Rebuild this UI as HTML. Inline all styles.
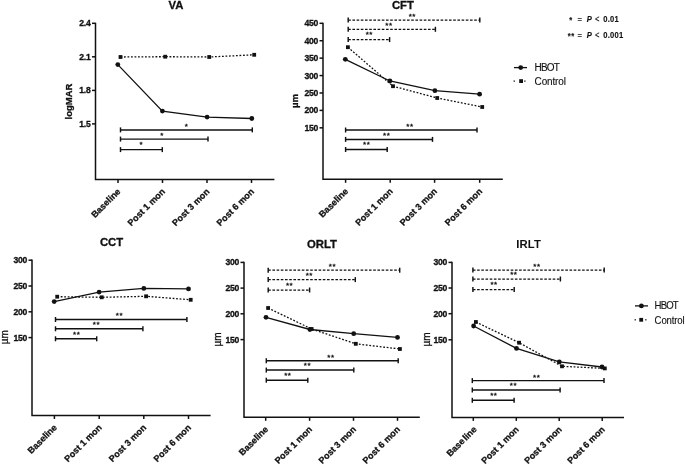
<!DOCTYPE html>
<html><head><meta charset="utf-8"><title>Figure</title>
<style>
html,body{margin:0;padding:0;background:#fff;}
body{width:685px;height:465px;overflow:hidden;}
svg{display:block;filter:grayscale(1);}
.ax line,.ax path,.ax polyline{stroke:#111;}
.mk{fill:#111;}
.t text{fill:#111;stroke:#111;stroke-width:0.3px;font-family:"Liberation Sans",sans-serif;}
.yt{font-size:8.6px;font-weight:bold;text-anchor:end;letter-spacing:-0.3px;}
.xl{font-size:9.0px;font-weight:bold;text-anchor:end;}
.st{font-size:8px;text-anchor:middle;letter-spacing:0.5px;}
.ti{font-size:11.3px;font-weight:bold;text-anchor:middle;}
.yl{font-size:9.5px;font-weight:bold;text-anchor:middle;}
.yu{font-size:10px;text-anchor:middle;}
.yb{font-size:9.6px;font-weight:bold;text-anchor:middle;}
.t .lg{font-size:10px;stroke-width:0.12px;}
.t .pv{font-size:7.6px;font-weight:bold;letter-spacing:0.25px;stroke-width:0.12px;}
.pe{font-weight:normal;}
.ps{letter-spacing:0.4px;}
.pi{font-style:italic;}
</style></head>
<body><svg width="685" height="465" viewBox="0 0 685 465">
<rect width="685" height="465" fill="#fff"/>
<g class="ax">
<path d="M95.5 22.65V179.5H274.4" stroke-width="1.5" fill="none"/>
<line x1="92" y1="23.3" x2="95.5" y2="23.3" stroke-width="1.5"/>
<line x1="92" y1="56.8" x2="95.5" y2="56.8" stroke-width="1.5"/>
<line x1="92" y1="90.4" x2="95.5" y2="90.4" stroke-width="1.5"/>
<line x1="92" y1="123.9" x2="95.5" y2="123.9" stroke-width="1.5"/>
<line x1="118" y1="179.5" x2="118" y2="183" stroke-width="1.5"/>
<line x1="162.5" y1="179.5" x2="162.5" y2="183" stroke-width="1.5"/>
<line x1="207" y1="179.5" x2="207" y2="183" stroke-width="1.5"/>
<line x1="251.5" y1="179.5" x2="251.5" y2="183" stroke-width="1.5"/>
<line x1="120.5" y1="129.9" x2="252.3" y2="129.9" stroke-width="1.45"/>
<line x1="120.5" y1="127.4" x2="120.5" y2="132.4" stroke-width="1.45"/>
<line x1="252.3" y1="127.4" x2="252.3" y2="132.4" stroke-width="1.45"/>
<line x1="120.5" y1="139.1" x2="208" y2="139.1" stroke-width="1.45"/>
<line x1="120.5" y1="136.6" x2="120.5" y2="141.6" stroke-width="1.45"/>
<line x1="208" y1="136.6" x2="208" y2="141.6" stroke-width="1.45"/>
<line x1="120.5" y1="149.6" x2="162.3" y2="149.6" stroke-width="1.45"/>
<line x1="120.5" y1="147.1" x2="120.5" y2="152.1" stroke-width="1.45"/>
<line x1="162.3" y1="147.1" x2="162.3" y2="152.1" stroke-width="1.45"/>
<polyline points="120.5,57 165.2,56.7 209.2,57 254.2,54.8" stroke-width="1.3" fill="none" stroke-dasharray="1.8 1.7"/>
<polyline points="117.8,64.6 162.4,111.1 207.1,117.1 251.8,118.5" stroke-width="1.3" fill="none"/>
</g>
<g class="mk">
<rect x="118.6" y="55.1" width="3.8" height="3.8"/>
<rect x="163.3" y="54.8" width="3.8" height="3.8"/>
<rect x="207.3" y="55.1" width="3.8" height="3.8"/>
<rect x="252.3" y="52.9" width="3.8" height="3.8"/>
<circle cx="117.8" cy="64.6" r="2.4"/>
<circle cx="162.4" cy="111.1" r="2.4"/>
<circle cx="207.1" cy="117.1" r="2.4"/>
<circle cx="251.8" cy="118.5" r="2.4"/>
</g>
<g class="t">
<text class="yt" transform="translate(90.4 26.3) scale(1 1.1)">2.4</text>
<text class="yt" transform="translate(90.4 59.8) scale(1 1.1)">2.1</text>
<text class="yt" transform="translate(90.4 93.4) scale(1 1.1)">1.8</text>
<text class="yt" transform="translate(90.4 126.9) scale(1 1.1)">1.5</text>
<text class="xl" x="121.1" y="192.1" transform="rotate(-45 121.1 192.1)">Baseline</text>
<text class="xl" x="165.6" y="192.1" transform="rotate(-45 165.6 192.1)">Post 1 mon</text>
<text class="xl" x="210.1" y="192.1" transform="rotate(-45 210.1 192.1)">Post 3 mon</text>
<text class="xl" x="254.6" y="192.1" transform="rotate(-45 254.6 192.1)">Post 6 mon</text>
<text class="st" x="186.58" y="129.2">*</text>
<text class="st" x="161.98" y="137.75">*</text>
<text class="st" x="141.28" y="147.2">*</text>
<text class="ti" x="176" y="8.9">VA</text>
<text class="yl" x="71.6" y="101.5" transform="rotate(-90 71.6 101.5)">logMAR</text>
</g>
<g class="ax">
<path d="M323 22.65V179.3H502.8" stroke-width="1.5" fill="none"/>
<line x1="319.5" y1="23.3" x2="323" y2="23.3" stroke-width="1.5"/>
<line x1="319.5" y1="40.72" x2="323" y2="40.72" stroke-width="1.5"/>
<line x1="319.5" y1="58.14" x2="323" y2="58.14" stroke-width="1.5"/>
<line x1="319.5" y1="75.56" x2="323" y2="75.56" stroke-width="1.5"/>
<line x1="319.5" y1="92.98" x2="323" y2="92.98" stroke-width="1.5"/>
<line x1="319.5" y1="110.4" x2="323" y2="110.4" stroke-width="1.5"/>
<line x1="319.5" y1="127.82" x2="323" y2="127.82" stroke-width="1.5"/>
<line x1="345.6" y1="179.3" x2="345.6" y2="182.8" stroke-width="1.5"/>
<line x1="390.2" y1="179.3" x2="390.2" y2="182.8" stroke-width="1.5"/>
<line x1="434.6" y1="179.3" x2="434.6" y2="182.8" stroke-width="1.5"/>
<line x1="479.7" y1="179.3" x2="479.7" y2="182.8" stroke-width="1.5"/>
<line x1="348.2" y1="20" x2="479.8" y2="20" stroke-width="1.25" stroke-dasharray="2.6 1.6"/>
<line x1="348.2" y1="17.5" x2="348.2" y2="22.5" stroke-width="1.45"/>
<line x1="479.8" y1="17.5" x2="479.8" y2="22.5" stroke-width="1.45"/>
<line x1="348.2" y1="29.3" x2="435.4" y2="29.3" stroke-width="1.25" stroke-dasharray="2.6 1.6"/>
<line x1="348.2" y1="26.8" x2="348.2" y2="31.8" stroke-width="1.45"/>
<line x1="435.4" y1="26.8" x2="435.4" y2="31.8" stroke-width="1.45"/>
<line x1="348.2" y1="39.6" x2="389.6" y2="39.6" stroke-width="1.25" stroke-dasharray="2.6 1.6"/>
<line x1="348.2" y1="37.1" x2="348.2" y2="42.1" stroke-width="1.45"/>
<line x1="389.6" y1="37.1" x2="389.6" y2="42.1" stroke-width="1.45"/>
<line x1="345.6" y1="130" x2="477" y2="130" stroke-width="1.45"/>
<line x1="345.6" y1="127.5" x2="345.6" y2="132.5" stroke-width="1.45"/>
<line x1="477" y1="127.5" x2="477" y2="132.5" stroke-width="1.45"/>
<line x1="345.6" y1="139.4" x2="432.5" y2="139.4" stroke-width="1.45"/>
<line x1="345.6" y1="136.9" x2="345.6" y2="141.9" stroke-width="1.45"/>
<line x1="432.5" y1="136.9" x2="432.5" y2="141.9" stroke-width="1.45"/>
<line x1="345.6" y1="149.5" x2="387.2" y2="149.5" stroke-width="1.45"/>
<line x1="345.6" y1="147" x2="345.6" y2="152" stroke-width="1.45"/>
<line x1="387.2" y1="147" x2="387.2" y2="152" stroke-width="1.45"/>
<polyline points="347.9,47.2 393,86.2 437.2,98 482.2,107" stroke-width="1.3" fill="none" stroke-dasharray="1.8 1.7"/>
<polyline points="345.3,59.3 389.9,81 434.9,90.7 479.6,94.2" stroke-width="1.3" fill="none"/>
</g>
<g class="mk">
<rect x="346" y="45.3" width="3.8" height="3.8"/>
<rect x="391.1" y="84.3" width="3.8" height="3.8"/>
<rect x="435.3" y="96.1" width="3.8" height="3.8"/>
<rect x="480.3" y="105.1" width="3.8" height="3.8"/>
<circle cx="345.3" cy="59.3" r="2.4"/>
<circle cx="389.9" cy="81" r="2.4"/>
<circle cx="434.9" cy="90.7" r="2.4"/>
<circle cx="479.6" cy="94.2" r="2.4"/>
</g>
<g class="t">
<text class="yt" transform="translate(317.9 26.3) scale(1 1.1)">450</text>
<text class="yt" transform="translate(317.9 43.72) scale(1 1.1)">400</text>
<text class="yt" transform="translate(317.9 61.14) scale(1 1.1)">350</text>
<text class="yt" transform="translate(317.9 78.56) scale(1 1.1)">300</text>
<text class="yt" transform="translate(317.9 95.98) scale(1 1.1)">250</text>
<text class="yt" transform="translate(317.9 113.4) scale(1 1.1)">200</text>
<text class="yt" transform="translate(317.9 130.82) scale(1 1.1)">150</text>
<text class="xl" x="348.7" y="191.9" transform="rotate(-45 348.7 191.9)">Baseline</text>
<text class="xl" x="393.3" y="191.9" transform="rotate(-45 393.3 191.9)">Post 1 mon</text>
<text class="xl" x="437.7" y="191.9" transform="rotate(-45 437.7 191.9)">Post 3 mon</text>
<text class="xl" x="482.8" y="191.9" transform="rotate(-45 482.8 191.9)">Post 6 mon</text>
<text class="st" x="412.33" y="18.9">**</text>
<text class="st" x="388.98" y="27.8">**</text>
<text class="st" x="369.28" y="37.1">**</text>
<text class="st" x="409.98" y="128.8">**</text>
<text class="st" x="386.68" y="137.8">**</text>
<text class="st" x="366.68" y="147.2">**</text>
<text class="ti" x="402.9" y="9.3">CFT</text>
<text class="yb" x="298.2" y="101" transform="rotate(-90 298.2 101)">µm</text>
</g>
<g class="ax">
<path d="M32 259.55V415.5H210.6" stroke-width="1.5" fill="none"/>
<line x1="28.5" y1="260.2" x2="32" y2="260.2" stroke-width="1.5"/>
<line x1="28.5" y1="286" x2="32" y2="286" stroke-width="1.5"/>
<line x1="28.5" y1="311.8" x2="32" y2="311.8" stroke-width="1.5"/>
<line x1="28.5" y1="337.6" x2="32" y2="337.6" stroke-width="1.5"/>
<line x1="54.4" y1="415.5" x2="54.4" y2="419" stroke-width="1.5"/>
<line x1="99.2" y1="415.5" x2="99.2" y2="419" stroke-width="1.5"/>
<line x1="143.8" y1="415.5" x2="143.8" y2="419" stroke-width="1.5"/>
<line x1="188.5" y1="415.5" x2="188.5" y2="419" stroke-width="1.5"/>
<line x1="55.5" y1="319.5" x2="186.9" y2="319.5" stroke-width="1.45"/>
<line x1="55.5" y1="317" x2="55.5" y2="322" stroke-width="1.45"/>
<line x1="186.9" y1="317" x2="186.9" y2="322" stroke-width="1.45"/>
<line x1="55.5" y1="328.8" x2="142.9" y2="328.8" stroke-width="1.45"/>
<line x1="55.5" y1="326.3" x2="55.5" y2="331.3" stroke-width="1.45"/>
<line x1="142.9" y1="326.3" x2="142.9" y2="331.3" stroke-width="1.45"/>
<line x1="55.5" y1="338.8" x2="96.7" y2="338.8" stroke-width="1.45"/>
<line x1="55.5" y1="336.3" x2="55.5" y2="341.3" stroke-width="1.45"/>
<line x1="96.7" y1="336.3" x2="96.7" y2="341.3" stroke-width="1.45"/>
<polyline points="57.2,296.7 101.7,297.3 146.1,296.3 190.7,299.8" stroke-width="1.3" fill="none" stroke-dasharray="1.8 1.7"/>
<polyline points="54.2,301.6 99.1,292.1 143.8,288.4 188.5,288.9" stroke-width="1.3" fill="none"/>
</g>
<g class="mk">
<rect x="55.3" y="294.8" width="3.8" height="3.8"/>
<rect x="99.8" y="295.4" width="3.8" height="3.8"/>
<rect x="144.2" y="294.4" width="3.8" height="3.8"/>
<rect x="188.8" y="297.9" width="3.8" height="3.8"/>
<circle cx="54.2" cy="301.6" r="2.4"/>
<circle cx="99.1" cy="292.1" r="2.4"/>
<circle cx="143.8" cy="288.4" r="2.4"/>
<circle cx="188.5" cy="288.9" r="2.4"/>
</g>
<g class="t">
<text class="yt" transform="translate(26.9 263.2) scale(1 1.1)">300</text>
<text class="yt" transform="translate(26.9 289) scale(1 1.1)">250</text>
<text class="yt" transform="translate(26.9 314.8) scale(1 1.1)">200</text>
<text class="yt" transform="translate(26.9 340.6) scale(1 1.1)">150</text>
<text class="xl" x="57.5" y="428.1" transform="rotate(-45 57.5 428.1)">Baseline</text>
<text class="xl" x="102.3" y="428.1" transform="rotate(-45 102.3 428.1)">Post 1 mon</text>
<text class="xl" x="146.9" y="428.1" transform="rotate(-45 146.9 428.1)">Post 3 mon</text>
<text class="xl" x="191.6" y="428.1" transform="rotate(-45 191.6 428.1)">Post 6 mon</text>
<text class="st" x="119.48" y="318.4">**</text>
<text class="st" x="96.48" y="327.3">**</text>
<text class="st" x="76.68" y="337">**</text>
<text class="ti" x="111.5" y="245.9">CCT</text>
<text class="yu" x="8.4" y="337.2" transform="rotate(-90 8.4 337.2)">µm</text>
</g>
<g class="ax">
<path d="M244 261.75V417.3H419.8" stroke-width="1.5" fill="none"/>
<line x1="240.5" y1="262.4" x2="244" y2="262.4" stroke-width="1.5"/>
<line x1="240.5" y1="288.1" x2="244" y2="288.1" stroke-width="1.5"/>
<line x1="240.5" y1="313.8" x2="244" y2="313.8" stroke-width="1.5"/>
<line x1="240.5" y1="339.6" x2="244" y2="339.6" stroke-width="1.5"/>
<line x1="265.7" y1="417.3" x2="265.7" y2="420.8" stroke-width="1.5"/>
<line x1="309.6" y1="417.3" x2="309.6" y2="420.8" stroke-width="1.5"/>
<line x1="353.5" y1="417.3" x2="353.5" y2="420.8" stroke-width="1.5"/>
<line x1="397.5" y1="417.3" x2="397.5" y2="420.8" stroke-width="1.5"/>
<line x1="268.2" y1="270.2" x2="399.7" y2="270.2" stroke-width="1.25" stroke-dasharray="2.6 1.6"/>
<line x1="268.2" y1="267.7" x2="268.2" y2="272.7" stroke-width="1.45"/>
<line x1="399.7" y1="267.7" x2="399.7" y2="272.7" stroke-width="1.45"/>
<line x1="268.2" y1="279.6" x2="355.3" y2="279.6" stroke-width="1.25" stroke-dasharray="2.6 1.6"/>
<line x1="268.2" y1="277.1" x2="268.2" y2="282.1" stroke-width="1.45"/>
<line x1="355.3" y1="277.1" x2="355.3" y2="282.1" stroke-width="1.45"/>
<line x1="268.2" y1="290" x2="309.6" y2="290" stroke-width="1.25" stroke-dasharray="2.6 1.6"/>
<line x1="268.2" y1="287.5" x2="268.2" y2="292.5" stroke-width="1.45"/>
<line x1="309.6" y1="287.5" x2="309.6" y2="292.5" stroke-width="1.45"/>
<line x1="266.3" y1="360.75" x2="398.2" y2="360.75" stroke-width="1.45"/>
<line x1="266.3" y1="358.25" x2="266.3" y2="363.25" stroke-width="1.45"/>
<line x1="398.2" y1="358.25" x2="398.2" y2="363.25" stroke-width="1.45"/>
<line x1="266.3" y1="370.05" x2="353.8" y2="370.05" stroke-width="1.45"/>
<line x1="266.3" y1="367.55" x2="266.3" y2="372.55" stroke-width="1.45"/>
<line x1="353.8" y1="367.55" x2="353.8" y2="372.55" stroke-width="1.45"/>
<line x1="266.3" y1="380.2" x2="307.8" y2="380.2" stroke-width="1.45"/>
<line x1="266.3" y1="377.7" x2="266.3" y2="382.7" stroke-width="1.45"/>
<line x1="307.8" y1="377.7" x2="307.8" y2="382.7" stroke-width="1.45"/>
<polyline points="268.1,308 311.6,329 355.8,343.8 399.9,349" stroke-width="1.3" fill="none" stroke-dasharray="1.8 1.7"/>
<polyline points="266,317.3 309.9,329.5 353.7,333.7 397.5,337.4" stroke-width="1.3" fill="none"/>
</g>
<g class="mk">
<rect x="266.2" y="306.1" width="3.8" height="3.8"/>
<rect x="309.7" y="327.1" width="3.8" height="3.8"/>
<rect x="353.9" y="341.9" width="3.8" height="3.8"/>
<rect x="398" y="347.1" width="3.8" height="3.8"/>
<circle cx="266" cy="317.3" r="2.4"/>
<circle cx="309.9" cy="329.5" r="2.4"/>
<circle cx="353.7" cy="333.7" r="2.4"/>
<circle cx="397.5" cy="337.4" r="2.4"/>
</g>
<g class="t">
<text class="yt" transform="translate(238.9 265.4) scale(1 1.1)">300</text>
<text class="yt" transform="translate(238.9 291.1) scale(1 1.1)">250</text>
<text class="yt" transform="translate(238.9 316.8) scale(1 1.1)">200</text>
<text class="yt" transform="translate(238.9 342.6) scale(1 1.1)">150</text>
<text class="xl" x="268.8" y="429.9" transform="rotate(-45 268.8 429.9)">Baseline</text>
<text class="xl" x="312.7" y="429.9" transform="rotate(-45 312.7 429.9)">Post 1 mon</text>
<text class="xl" x="356.6" y="429.9" transform="rotate(-45 356.6 429.9)">Post 3 mon</text>
<text class="xl" x="400.6" y="429.9" transform="rotate(-45 400.6 429.9)">Post 6 mon</text>
<text class="st" x="332.48" y="269.1">**</text>
<text class="st" x="309.28" y="278.1">**</text>
<text class="st" x="289.58" y="287.7">**</text>
<text class="st" x="330.98" y="359.9">**</text>
<text class="st" x="307.48" y="368.3">**</text>
<text class="st" x="287.88" y="378">**</text>
<text class="ti" x="322" y="247.6">ORLT</text>
<text class="yu" x="220.6" y="339.5" transform="rotate(-90 220.6 339.5)">µm</text>
</g>
<g class="ax">
<path d="M452 261.75V417.4H624" stroke-width="1.5" fill="none"/>
<line x1="448.5" y1="262.4" x2="452" y2="262.4" stroke-width="1.5"/>
<line x1="448.5" y1="288" x2="452" y2="288" stroke-width="1.5"/>
<line x1="448.5" y1="313.7" x2="452" y2="313.7" stroke-width="1.5"/>
<line x1="448.5" y1="339.8" x2="452" y2="339.8" stroke-width="1.5"/>
<line x1="473.3" y1="417.4" x2="473.3" y2="420.9" stroke-width="1.5"/>
<line x1="516.3" y1="417.4" x2="516.3" y2="420.9" stroke-width="1.5"/>
<line x1="559.2" y1="417.4" x2="559.2" y2="420.9" stroke-width="1.5"/>
<line x1="602.2" y1="417.4" x2="602.2" y2="420.9" stroke-width="1.5"/>
<line x1="472.9" y1="270" x2="604.2" y2="270" stroke-width="1.25" stroke-dasharray="2.6 1.6"/>
<line x1="472.9" y1="267.5" x2="472.9" y2="272.5" stroke-width="1.45"/>
<line x1="604.2" y1="267.5" x2="604.2" y2="272.5" stroke-width="1.45"/>
<line x1="472.9" y1="279" x2="560.4" y2="279" stroke-width="1.25" stroke-dasharray="2.6 1.6"/>
<line x1="472.9" y1="276.5" x2="472.9" y2="281.5" stroke-width="1.45"/>
<line x1="560.4" y1="276.5" x2="560.4" y2="281.5" stroke-width="1.45"/>
<line x1="472.9" y1="289.6" x2="514.2" y2="289.6" stroke-width="1.25" stroke-dasharray="2.6 1.6"/>
<line x1="472.9" y1="287.1" x2="472.9" y2="292.1" stroke-width="1.45"/>
<line x1="514.2" y1="287.1" x2="514.2" y2="292.1" stroke-width="1.45"/>
<line x1="472.3" y1="380.6" x2="604" y2="380.6" stroke-width="1.45"/>
<line x1="472.3" y1="378.1" x2="472.3" y2="383.1" stroke-width="1.45"/>
<line x1="604" y1="378.1" x2="604" y2="383.1" stroke-width="1.45"/>
<line x1="472.3" y1="390" x2="560.1" y2="390" stroke-width="1.45"/>
<line x1="472.3" y1="387.5" x2="472.3" y2="392.5" stroke-width="1.45"/>
<line x1="560.1" y1="387.5" x2="560.1" y2="392.5" stroke-width="1.45"/>
<line x1="472.3" y1="400.3" x2="514.1" y2="400.3" stroke-width="1.45"/>
<line x1="472.3" y1="397.8" x2="472.3" y2="402.8" stroke-width="1.45"/>
<line x1="514.1" y1="397.8" x2="514.1" y2="402.8" stroke-width="1.45"/>
<polyline points="475.9,322 519.1,342.7 562,366.3 604.8,368.4" stroke-width="1.3" fill="none" stroke-dasharray="1.8 1.7"/>
<polyline points="473.6,326 516.5,348.4 559.3,361.9 602,367" stroke-width="1.3" fill="none"/>
</g>
<g class="mk">
<rect x="474" y="320.1" width="3.8" height="3.8"/>
<rect x="517.2" y="340.8" width="3.8" height="3.8"/>
<rect x="560.1" y="364.4" width="3.8" height="3.8"/>
<rect x="602.9" y="366.5" width="3.8" height="3.8"/>
<circle cx="473.6" cy="326" r="2.4"/>
<circle cx="516.5" cy="348.4" r="2.4"/>
<circle cx="559.3" cy="361.9" r="2.4"/>
<circle cx="602" cy="367" r="2.4"/>
</g>
<g class="t">
<text class="yt" transform="translate(446.9 265.4) scale(1 1.1)">300</text>
<text class="yt" transform="translate(446.9 291) scale(1 1.1)">250</text>
<text class="yt" transform="translate(446.9 316.7) scale(1 1.1)">200</text>
<text class="yt" transform="translate(446.9 342.8) scale(1 1.1)">150</text>
<text class="xl" x="477.2" y="430" transform="rotate(-45 477.2 430)" style="word-spacing:-1.3px">Base line</text>
<text class="xl" x="519.4" y="430" transform="rotate(-45 519.4 430)">Post 1 mon</text>
<text class="xl" x="562.3" y="430" transform="rotate(-45 562.3 430)">Post 3 mon</text>
<text class="xl" x="605.3" y="430" transform="rotate(-45 605.3 430)">Post 6 mon</text>
<text class="st" x="536.98" y="268.6">**</text>
<text class="st" x="513.78" y="277.1">**</text>
<text class="st" x="494.08" y="287.2">**</text>
<text class="st" x="536.68" y="379.9">**</text>
<text class="st" x="513.48" y="388.3">**</text>
<text class="st" x="493.88" y="398">**</text>
<text class="ti" x="528.7" y="247.6" style="stroke-width:0;letter-spacing:0.2px">IRLT</text>
<text class="yu" x="429.6" y="339.5" transform="rotate(-90 429.6 339.5)">µm</text>
</g>
<g class="ax">
<line x1="514" y1="67.6" x2="527" y2="67.6" stroke-width="1.3"/>
</g><g class="mk">
<rect x="513.6" y="80.45" width="1.3" height="1.3"/>
<rect x="524.2" y="80.45" width="1.3" height="1.3"/>
<circle cx="520.7" cy="67.6" r="2.4"/>
<rect x="519.2" y="79.2" width="3.8" height="3.8"/>
</g><g class="t">
<text class="lg" transform="translate(534.6 71.1) scale(1 1.08)" style="letter-spacing:-0.85px;font-size:10px">HBOT</text>
<text class="lg" transform="translate(534.6 84.8) scale(1 1.08)" style="letter-spacing:-0.15px;font-size:10px">Control</text>
</g>
<g class="ax">
<line x1="635" y1="305.9" x2="648" y2="305.9" stroke-width="1.3"/>
</g><g class="mk">
<rect x="634.6" y="319.15" width="1.3" height="1.3"/>
<rect x="645.2" y="319.15" width="1.3" height="1.3"/>
<circle cx="641.4" cy="305.9" r="2.4"/>
<rect x="639.3" y="317.9" width="3.8" height="3.8"/>
</g><g class="t">
<text class="lg" transform="translate(654.6 309.4) scale(1 1.08)" style="letter-spacing:-0.85px;font-size:9.6px">HBOT</text>
<text class="lg" transform="translate(654.6 323.5) scale(1 1.08)" style="letter-spacing:-0.15px;font-size:9.6px">Control</text>
</g>
<g class="t">
<text class="pv" transform="translate(0 21.5) scale(1 1.2)"><tspan x="569.2" dy="0.9" class="ps">*</tspan><tspan x="577.6" dy="-0.9" class="pe">=</tspan><tspan x="586.8" class="pi">P</tspan><tspan x="594.9" class="pe">&lt;</tspan><tspan x="603.2">0.01</tspan></text>
<text class="pv" transform="translate(0 37.6) scale(1 1.2)"><tspan x="567.8" dy="0.9" class="ps">**</tspan><tspan x="577.6" dy="-0.9" class="pe">=</tspan><tspan x="586.8" class="pi">P</tspan><tspan x="594.9" class="pe">&lt;</tspan><tspan x="603.2">0.001</tspan></text>
</g>
</svg></body></html>
